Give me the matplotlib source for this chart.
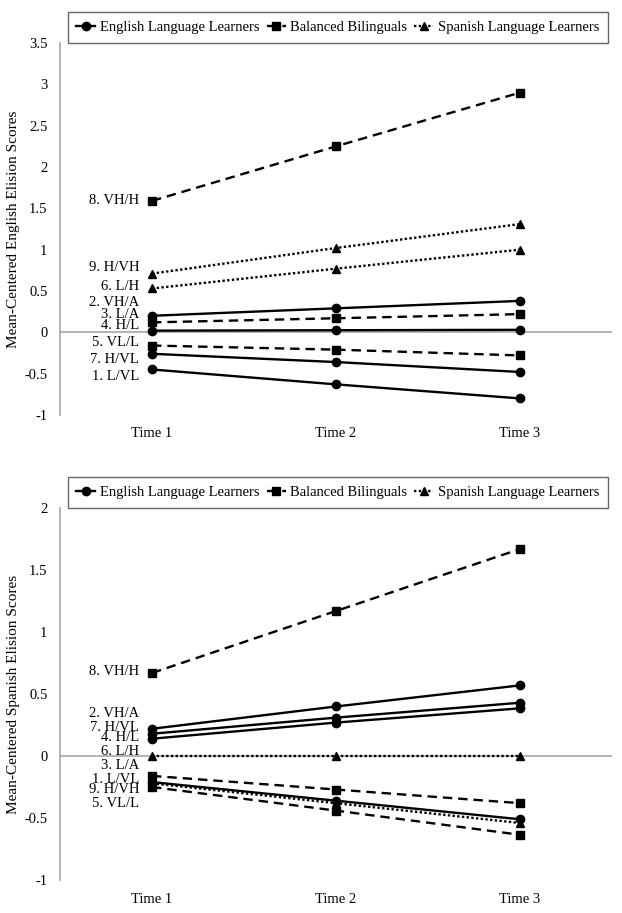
import numpy as np
import matplotlib.pyplot as plt
from matplotlib.lines import Line2D

# Time points
times = ['Time 1', 'Time 2', 'Time 3']

# English elision scores (mean-centered), one list per profile
eng_labels = ['8. VH/H', '9. H/VH', '6. L/H', '2. VH/A', '3. L/A',
              '4. H/L', '5. VL/L', '7. H/VL', '1. L/VL']
eng_groups = ['BB', 'SLL', 'SLL', 'ELL', 'BB', 'ELL', 'BB', 'ELL', 'ELL']
eng_values = [
    [1.59, 2.25, 2.90],
    [0.71, 1.02, 1.31],
    [0.53, 0.77, 1.00],
    [0.20, 0.29, 0.38],
    [0.12, 0.17, 0.22],
    [0.02, 0.025, 0.03],
    [-0.16, -0.21, -0.28],
    [-0.26, -0.36, -0.48],
    [-0.45, -0.63, -0.80],
]
# where the Excel-style data labels sit (y, in data units)
eng_label_y = [1.60, 0.78, 0.55, 0.365, 0.217, 0.084, -0.12, -0.325, -0.54]

# Spanish elision scores (mean-centered)
spa_labels = ['8. VH/H', '2. VH/A', '7. H/VL', '4. H/L', '6. L/H',
              '3. L/A', '1. L/VL', '9. H/VH', '5. VL/L']
spa_groups = ['BB', 'ELL', 'ELL', 'ELL', 'SLL', 'BB', 'ELL', 'SLL', 'BB']
spa_values = [
    [0.67, 1.17, 1.67],
    [0.22, 0.40, 0.57],
    [0.18, 0.31, 0.43],
    [0.14, 0.27, 0.385],
    [0.0, 0.0, 0.0],
    [-0.16, -0.27, -0.38],
    [-0.21, -0.36, -0.51],
    [-0.22, -0.38, -0.54],
    [-0.25, -0.44, -0.635],
]
spa_label_y = [0.68, 0.34, 0.23, 0.15, 0.04, -0.08, -0.19, -0.27, -0.38]

group_names = {'ELL': 'English Language Learners',
               'BB': 'Balanced Bilinguals',
               'SLL': 'Spanish Language Learners'}

styles = {'ELL': dict(linestyle='-', marker='o', markersize=6),
          'BB': dict(linestyle=(0, (4, 2.5)), marker='s', markersize=6),
          'SLL': dict(linestyle=(0, (1, 1)), marker='^', markersize=6)}

plt.rcParams['font.family'] = ['Liberation Serif', 'DejaVu Serif']
axis_grey = '#A6A6A6'
fs = 10.5

fig = plt.figure(figsize=(6.22, 9.13), dpi=100)
ax1 = fig.add_axes([0.0965, 0.5455, 0.8875, 0.4074])
ax2 = fig.add_axes([0.0965, 0.0361, 0.8875, 0.4074])


def draw_panel(ax, values, groups, labels, label_y, ylim, yticks, ylabel):
    x = np.arange(1, len(times) + 1)
    for vals, grp, lab, ly in zip(values, groups, labels, label_y):
        ax.plot(x, vals, color='black', linewidth=1.7, **styles[grp])
        ax.text(x[0] - 0.07, ly, lab, ha='right', va='center', fontsize=fs)
    ax.axhline(0, color=axis_grey, linewidth=1.2, zorder=0)
    ax.set_xlim(0.5, 3.5)
    ax.set_ylim(*ylim)
    ax.set_yticks(yticks)
    ax.set_yticklabels([f'{t:g}' for t in yticks], fontsize=fs)
    ax.set_xticks(x)
    ax.set_xticklabels(times, fontsize=fs)
    ax.tick_params(length=0)
    ax.tick_params(axis='x', pad=9)
    ax.tick_params(axis='y', pad=9)
    for s in ['top', 'right', 'bottom']:
        ax.spines[s].set_visible(False)
    ax.spines['left'].set_color(axis_grey)
    ax.spines['left'].set_linewidth(1.2)
    ax.set_ylabel(ylabel, fontsize=11, labelpad=3)

    handles = [Line2D([], [], color='black', linewidth=1.7, **styles[g])
               for g in ['ELL', 'BB', 'SLL']]
    leg = ax.legend(handles, [group_names[g] for g in ['ELL', 'BB', 'SLL']],
                    loc='lower center', bbox_to_anchor=(0.503, 1.0), ncol=3,
                    fontsize=fs, frameon=True, fancybox=False,
                    handlelength=1.3, handletextpad=0.3, columnspacing=0.5,
                    borderpad=0.6, borderaxespad=0)
    leg.get_frame().set_edgecolor('#404040')
    leg.get_frame().set_linewidth(1.0)


draw_panel(ax1, eng_values, eng_groups, eng_labels, eng_label_y,
           (-1, 3.5), [-1, -0.5, 0, 0.5, 1, 1.5, 2, 2.5, 3, 3.5],
           'Mean-Centered English Elision Scores')
draw_panel(ax2, spa_values, spa_groups, spa_labels, spa_label_y,
           (-1, 2), [-1, -0.5, 0, 0.5, 1, 1.5, 2],
           'Mean-Centered Spanish Elision Scores')

fig.savefig('out.png', dpi=100)
